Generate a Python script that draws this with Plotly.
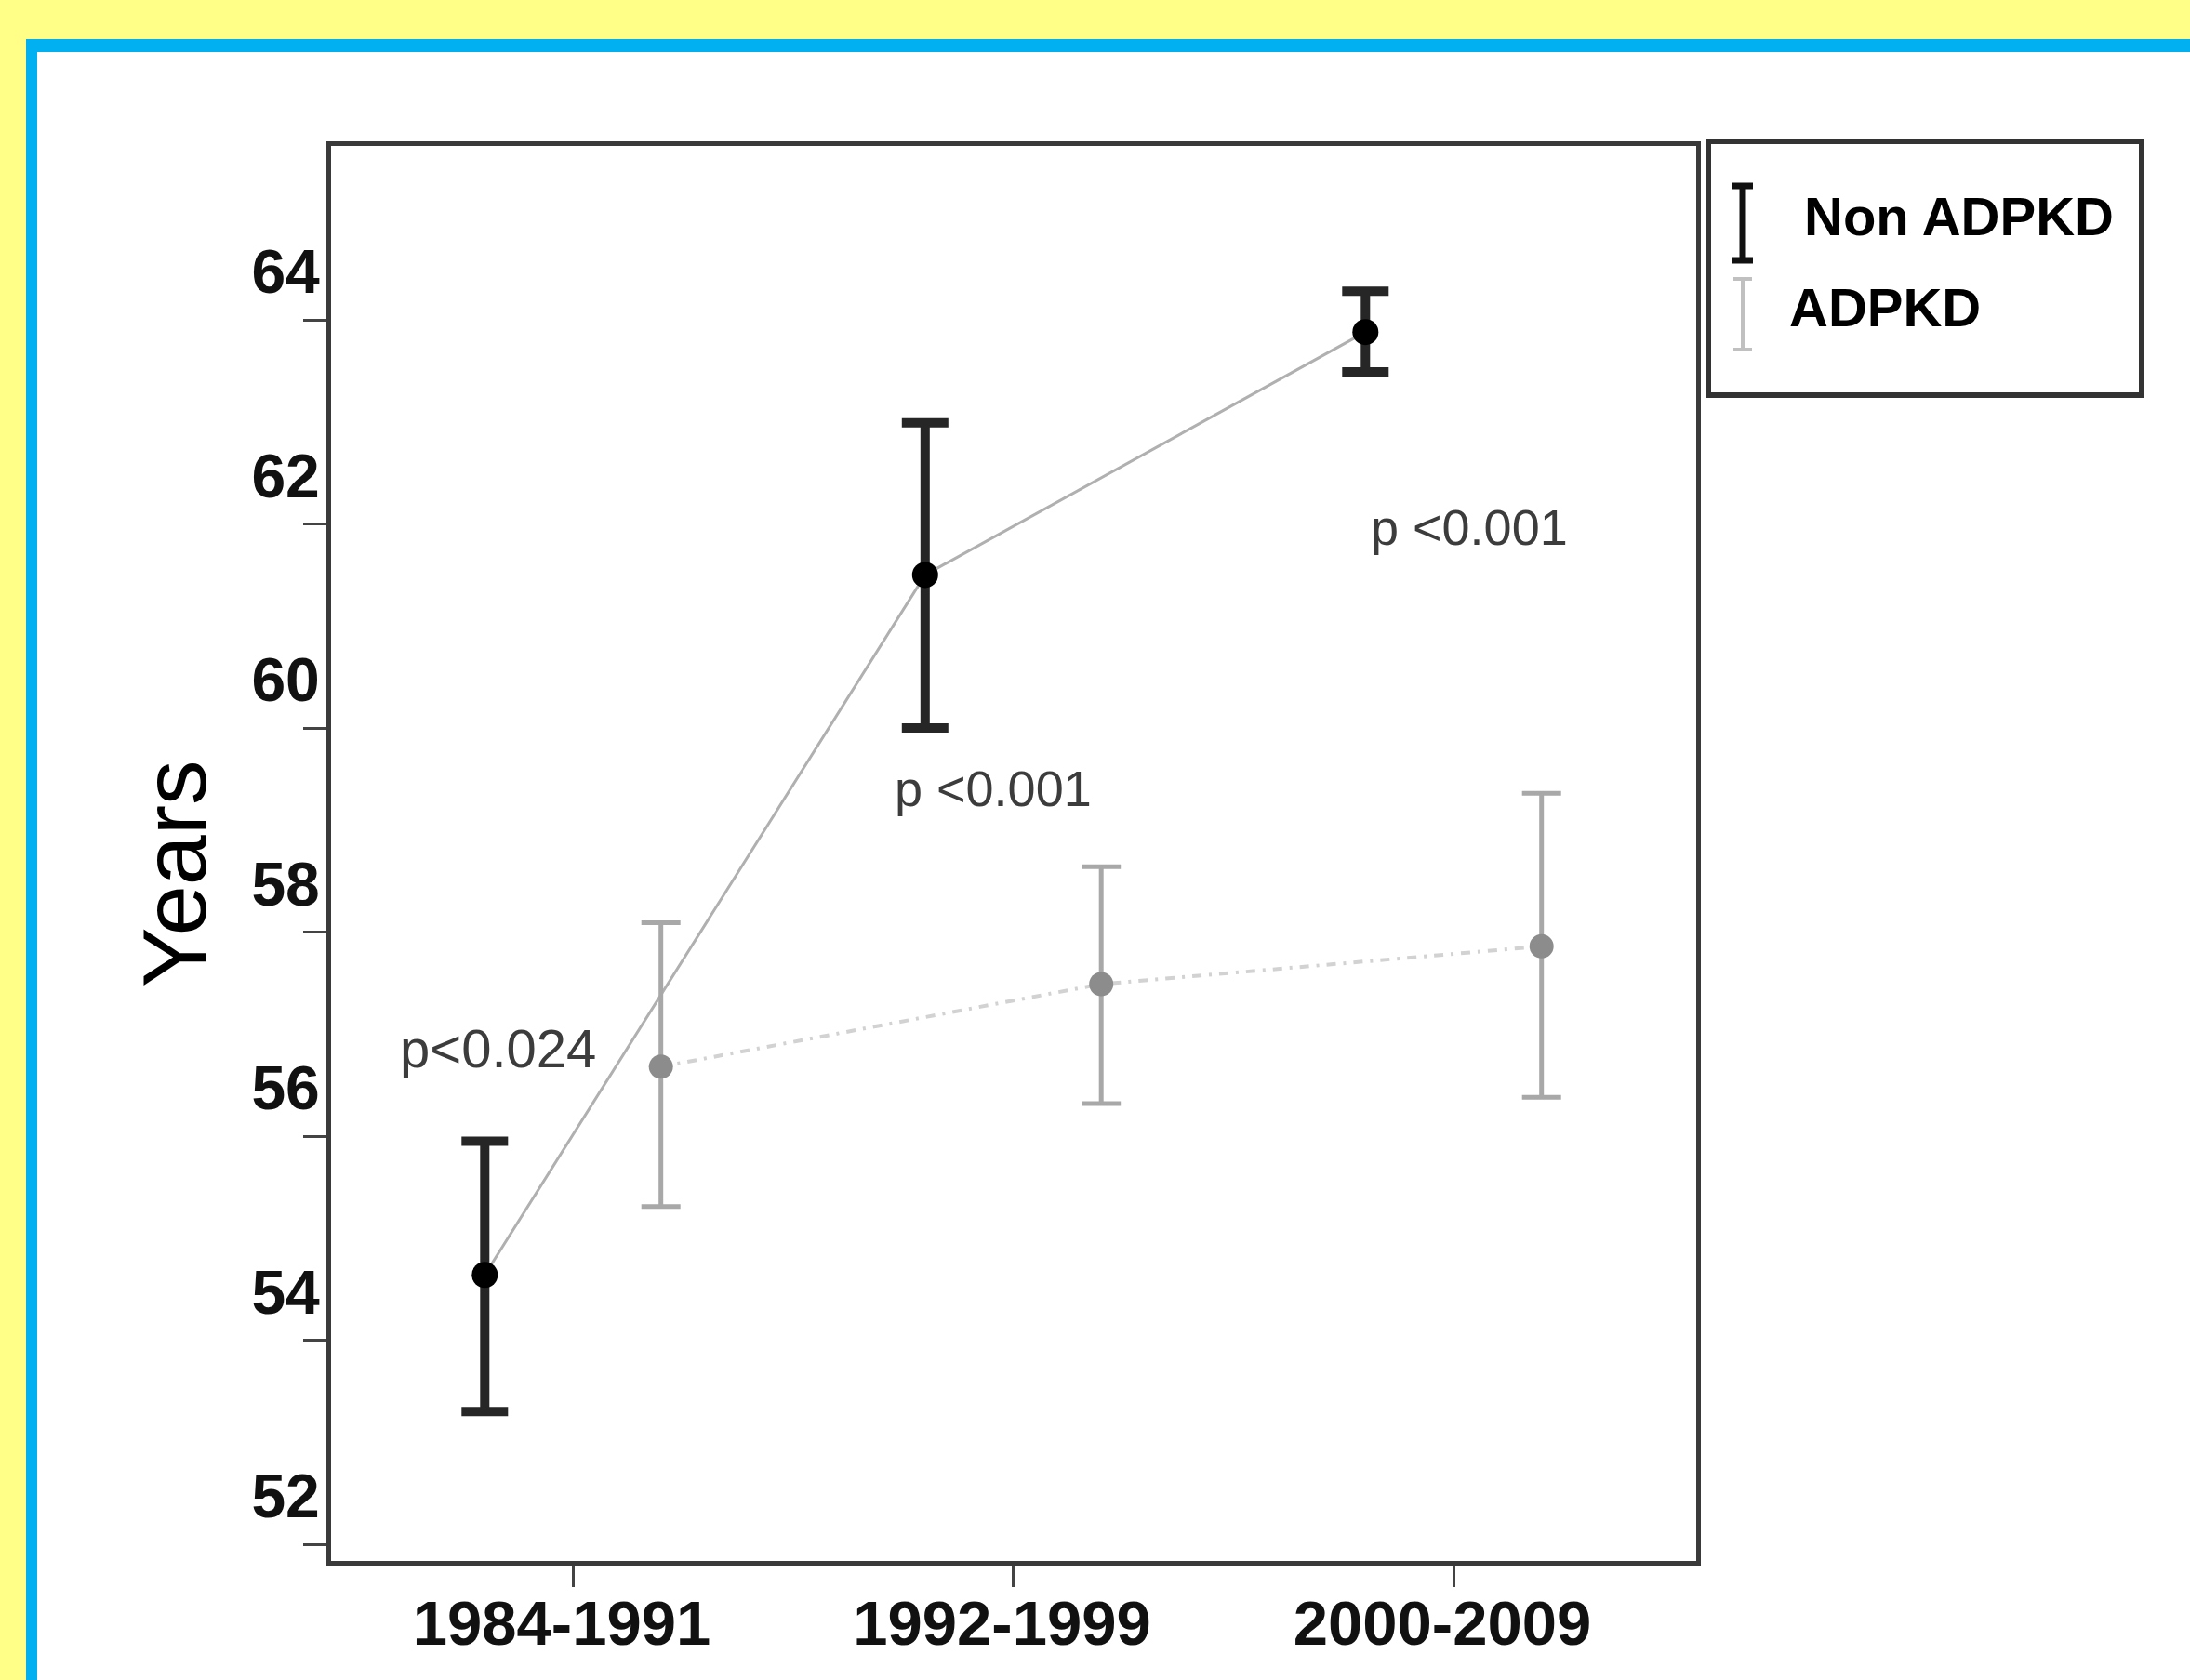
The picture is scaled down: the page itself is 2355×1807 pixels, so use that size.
import plotly.graph_objects as go

# ---------------- data ----------------
categories = ["1984-1991", "1992-1999", "2000-2009"]
non_mean = [54.64, 61.50, 63.88]
non_low = [53.30, 60.00, 63.49]
non_high = [55.95, 62.99, 64.28]
adpkd_mean = [56.68, 57.49, 57.86]
adpkd_low = [55.31, 56.32, 56.38]
adpkd_high = [58.09, 58.64, 59.36]
p_labels = ["p<0.024", "p <0.001", "p <0.001"]
y_ticks = [52, 54, 56, 58, 60, 62, 64]
series_names = ["Non ADPKD", "ADPKD"]

# ---------------- geometry ----------------
W, H = 2355, 1807
L, R, T, B = 356, 1824, 157, 1679   # plot box in pixels
OFF = 0.2
idx = list(range(len(categories)))
x_non = [i - OFF for i in idx]
x_ad = [i + OFF for i in idx]

def px(x):
    return (x - L) / (R - L)

def py(y):
    return (B - y) / (B - T)

fig = go.Figure()

# connecting lines
fig.add_trace(go.Scatter(x=x_non, y=non_mean, mode="lines",
                         line=dict(color="#b0b0b0", width=3),
                         showlegend=False, hoverinfo="skip"))
fig.add_trace(go.Scatter(x=x_ad, y=adpkd_mean, mode="lines",
                         line=dict(color="#d2d2d2", width=4, dash="10px,8px,3px,8px"),
                         showlegend=False, hoverinfo="skip"))

# error bars + means
fig.add_trace(go.Scatter(
    x=x_non, y=non_mean, mode="markers", name=series_names[0],
    marker=dict(color="#000000", size=28),
    error_y=dict(type="data", symmetric=False,
                 array=[h - m for h, m in zip(non_high, non_mean)],
                 arrayminus=[m - l for m, l in zip(non_mean, non_low)],
                 color="#262626", thickness=10, width=25),
    showlegend=False))
fig.add_trace(go.Scatter(
    x=x_ad, y=adpkd_mean, mode="markers", name=series_names[1],
    marker=dict(color="#8c8c8c", size=26),
    error_y=dict(type="data", symmetric=False,
                 array=[h - m for h, m in zip(adpkd_high, adpkd_mean)],
                 arrayminus=[m - l for m, l in zip(adpkd_mean, adpkd_low)],
                 color="#a8a8a8", thickness=5, width=21),
    showlegend=False))

# ---------------- background frames ----------------
shapes = [
    dict(type="rect", xref="paper", yref="paper", layer="below",
         x0=px(28), x1=px(2600), y0=py(2000), y1=py(42),
         fillcolor="#00B0F0", line=dict(width=0)),
    dict(type="rect", xref="paper", yref="paper", layer="below",
         x0=px(40), x1=px(2600), y0=py(2000), y1=py(56),
         fillcolor="#FFFFFF", line=dict(width=0)),
    # legend box
    dict(type="rect", xref="paper", yref="paper",
         x0=px(1837), x1=px(2303), y0=py(425), y1=py(152),
         fillcolor="rgba(0,0,0,0)", line=dict(color="#333333", width=6)),
]

# legend I-bar glyphs
def ibar(xc, y_top, y_bot, half, color, w):
    return [
        dict(type="line", xref="paper", yref="paper", x0=px(xc), x1=px(xc),
             y0=py(y_top), y1=py(y_bot), line=dict(color=color, width=w)),
        dict(type="line", xref="paper", yref="paper", x0=px(xc - half), x1=px(xc + half),
             y0=py(y_top), y1=py(y_top), line=dict(color=color, width=w)),
        dict(type="line", xref="paper", yref="paper", x0=px(xc - half), x1=px(xc + half),
             y0=py(y_bot), y1=py(y_bot), line=dict(color=color, width=w)),
    ]

shapes += ibar(1874, 200, 280, 11, "#111111", 7)
shapes += ibar(1874, 300, 376, 10, "#c0c0c0", 4)

annotations = [
    dict(text=series_names[0], xref="paper", yref="paper", x=px(1938), y=py(233),
         xanchor="left", yanchor="middle", showarrow=False,
         font=dict(family="Liberation Sans", size=58, color="#000000", weight="bold")),
    dict(text=series_names[1], xref="paper", yref="paper", x=px(1922), y=py(330),
         xanchor="left", yanchor="middle", showarrow=False,
         font=dict(family="Liberation Sans", size=58, color="#000000", weight="bold")),
    dict(text="Years", xref="paper", yref="paper", x=px(188), y=py(940),
         xanchor="center", yanchor="middle", textangle=-90, showarrow=False,
         font=dict(family="Liberation Sans", size=97, color="#000000")),
]

# p-value labels (data coordinates)
p_pos = [(-0.169, 56.86), (0.955, 59.41), (2.036, 61.97)]
p_size = [58, 54, 54]
for lab, (xx, yy), sz in zip(p_labels, p_pos, p_size):
    annotations.append(dict(text=lab, x=xx, y=yy, xref="x", yref="y",
                            xanchor="center", yanchor="middle", showarrow=False,
                            font=dict(family="Liberation Sans", size=sz, color="#3c3c3c")))

x_rng = [-(616 - L) / 473.5, 2 + (R - 1563) / 473.5]
px_per_yr = 109.75
y_rng = [52 - (B - 1661) / px_per_yr, 64 + (344 - T) / px_per_yr]

fig.update_layout(
    width=W, height=H, autosize=False,
    margin=dict(l=L, r=W - R, t=T, b=H - B, pad=0),
    paper_bgcolor="#FFFF88", plot_bgcolor="#FFFFFF",
    shapes=shapes, annotations=annotations, showlegend=False,
    xaxis=dict(range=x_rng, tickmode="array", tickvals=idx, ticktext=categories,
               ticks="outside", ticklen=23, tickwidth=3, tickcolor="#444444",
               showline=True, linewidth=5, linecolor="#3a3a3a", mirror=True,
               showgrid=False, zeroline=False, ticklabelshift=-12, ticklabelstandoff=-18,
               tickfont=dict(family="Liberation Sans", size=67, color="#111111", weight="bold")),
    yaxis=dict(range=y_rng, tickmode="array", tickvals=y_ticks,
               ticks="outside", ticklen=25, tickwidth=3, tickcolor="#444444",
               showline=True, linewidth=5, linecolor="#3a3a3a", mirror=True,
               showgrid=False, zeroline=False, ticklabelshift=-52, ticklabelstandoff=-31,
               tickfont=dict(family="Liberation Sans", size=66, color="#111111", weight="bold")),
)

fig.write_html("out.html", config={"displayModeBar": False},
               post_script="document.body.style.margin='0px';")
